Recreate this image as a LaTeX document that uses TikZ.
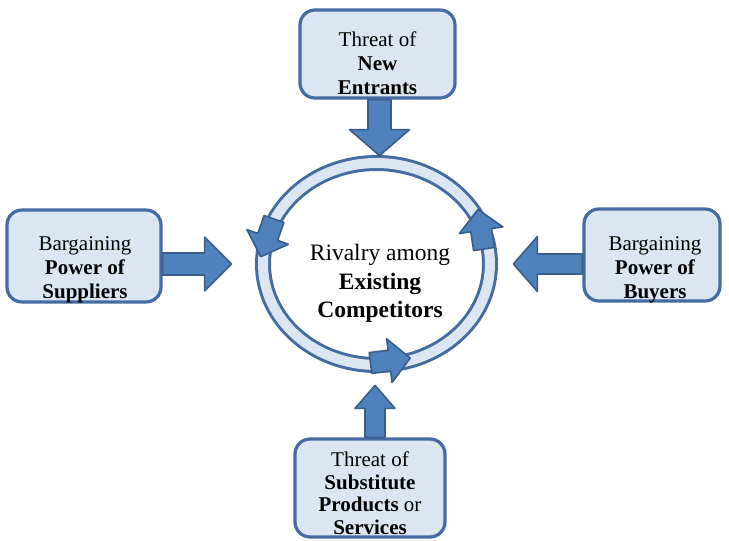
\documentclass[tikz,border=0pt]{standalone}
\usepackage{fontspec}
\setmainfont{Liberation Serif}
\usetikzlibrary{shapes.geometric,calc}

\definecolor{boxfill}{RGB}{220,230,242}
\definecolor{boxdraw}{RGB}{68,108,163}
\definecolor{arrfill}{RGB}{79,129,189}
\definecolor{arrdraw}{RGB}{56,93,138}

\tikzset{
  forcebox/.style={draw=boxdraw, fill=boxfill, line width=3.2pt, rounded corners=15pt,
    inner sep=0pt},
  forcetext/.style={align=center, font=\fontsize{21}{24}\selectfont, inner sep=0pt},
  bigarrow/.style={draw=arrdraw, fill=arrfill, line width=1.6pt, line join=round},
  % straight block arrow pointing along +x: length, head length, head half width, shaft half width
  pics/blockarrow/.style n args={4}{code={
    \draw[bigarrow] (0,-#4) -- ({#1-#2},-#4) -- ({#1-#2},-#3) -- (#1,0)
      -- ({#1-#2},#3) -- ({#1-#2},#4) -- (0,#4) -- cycle;
  }},
  % short arrowhead sitting on the ring
  pics/ringhead/.style={code={
    \draw[bigarrow] (0,-10.5) -- (19,-10.5) -- (19,-22) -- (40,0) -- (19,22)
      -- (19,10.5) -- (0,10.5) -- cycle;
  }}
}

\begin{document}
\begin{tikzpicture}[x=1pt,y=1pt]
\useasboundingbox (0,0) rectangle (729,541);

% central ring
\node[ellipse, draw=boxdraw, double=boxfill, double distance=10pt, line width=3pt,
  minimum width=227pt, minimum height=202pt, inner sep=0pt] (ring) at (376.5,277) {};

% the four forces
\node[forcebox, minimum width=155pt, minimum height=88pt] (tbox) at (377.5,487) {};
\node[forcebox, minimum width=154pt, minimum height=92pt] (lbox) at (84,285) {};
\node[forcebox, minimum width=136pt, minimum height=92pt] (rbox) at (652,286) {};
\node[forcebox, minimum width=150pt, minimum height=98pt] (bbox) at (370,53) {};

% block arrows from the forces towards the ring
\pic[rotate=-90] (tarrow) at ($(ring.center |- tbox.south)+(3,0)$) {blockarrow={56}{26}{30}{11.5}};
\pic (larrow) at (lbox.east |- ring.center) {blockarrow={69}{27}{27}{11}};
\pic[rotate=180] (rarrow) at (rbox.west |- ring.center) {blockarrow={69}{24}{27.5}{10}};
\pic[rotate=90] (barrow) at ($(ring.center |- bbox.north)+(-1.5,0)$) {blockarrow={52}{23}{20}{10}};

% arrowheads running round the ring
\pic[rotate=250.6] (rh1) at ($(ring.center)+(-102.5,45)$) {ringhead};
\pic[rotate=98.7] (rh2) at ($(ring.center)+(107.5,15)$) {ringhead};
\pic[rotate=7] (rh3) at ($(ring.center)+(-6,-99)$) {ringhead};

% labels
\node[forcetext] (ttext) at ($(tbox.center)+(0,-9.5)$) {Threat of\\ \textbf{New}\\ \textbf{Entrants}};
\node[forcetext] (ltext) at ($(lbox.center)+(1,-13.5)$) {Bargaining\\ \textbf{Power of}\\ \textbf{Suppliers}};
\node[forcetext] (rtext) at ($(rbox.center)+(3,-14.5)$) {Bargaining\\ \textbf{Power of}\\ \textbf{Buyers}};
\node[forcetext, font=\fontsize{21}{22.5}\selectfont] (btext) at ($(bbox.center)+(0,-5)$)
  {Threat of\\ \textbf{Substitute}\\ \textbf{Products} or\\ \textbf{Services}};
\node[forcetext, font=\fontsize{23.5}{28.5}\selectfont] (ctext) at ($(ring.center)+(3.5,-19.5)$)
  {Rivalry among\\ \textbf{Existing}\\ \textbf{Competitors}};
\end{tikzpicture}
\end{document}
